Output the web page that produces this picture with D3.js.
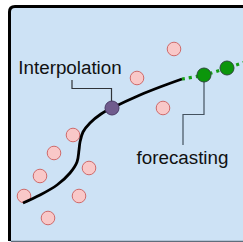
<!DOCTYPE html>
<html><head><meta charset="utf-8">
<script src="https://cdn.jsdelivr.net/npm/d3@7"></script>
<style>html,body{margin:0;padding:0;background:#fff;}svg{display:block;}</style>
</head><body>
<script>
// data units
const samplesX = [8.2, 6.35, 7.65, 3.15, 2.2, 3.95, 1.5, 0.7, 3.45, 1.9];
const samplesY = [9.05, 7.6, 6.1, 4.75, 3.85, 3.1, 2.7, 1.7, 1.7, 0.6];
const curveX = [0.65, 1.5, 2.35, 3.0, 3.35, 3.45, 3.5, 3.65, 4.0, 4.55, 5.1, 6.5, 7.5, 8.6];
const curveY = [1.35, 1.75, 2.25, 2.85, 3.4, 4.0, 4.4, 4.9, 5.35, 5.8, 6.1, 6.75, 7.15, 7.55];
const forecastLineX = [8.6, 9.7, 10.85, 11.75];
const forecastLineY = [7.55, 7.75, 8.1, 8.4];
const interpX = [5.1], interpY = [6.1];
const forecastX = [9.7, 10.85], forecastY = [7.75, 8.1];
const labels = ["Interpolation", "forecasting"];

const W = 243, H = 242;
const x = d3.scaleLinear().domain([0, 11.5]).range([10, 240]);
const y = d3.scaleLinear().domain([0, 11]).range([230, 10]);

const svg = d3.select("body").append("svg").attr("width", W).attr("height", H);

// panel
svg.append("rect").attr("x", 9.5).attr("y", 6.5).attr("width", 260).attr("height", 260)
  .attr("rx", 5).attr("fill", "#cde2f5");
svg.append("path").attr("d", "M9.5,241 L9.5,12 Q9.5,6.5 15,6.5 L245,6.5")
  .attr("fill", "none").attr("stroke", "#000").attr("stroke-width", 3);
svg.append("line").attr("x1", 11).attr("x2", 243).attr("y1", 241.5).attr("y2", 241.5)
  .attr("stroke", "#5f6e7c").attr("stroke-width", 1.5);

// samples
svg.selectAll("circle.s").data(samplesX.map((v, i) => [v, samplesY[i]])).join("circle")
  .attr("cx", d => x(d[0])).attr("cy", d => y(d[1])).attr("r", 6.8)
  .attr("fill", "#f9c8c8").attr("stroke", "#cf6a6a").attr("stroke-width", 1);

const line = d3.line().x(d => x(d[0])).y(d => y(d[1])).curve(d3.curveCatmullRom);
svg.append("path").datum(curveX.map((v, i) => [v, curveY[i]])).attr("d", line)
  .attr("fill", "none").attr("stroke", "#000").attr("stroke-width", 2.8).attr("stroke-linecap", "butt");
svg.append("path").datum(forecastLineX.map((v, i) => [v, forecastLineY[i]])).attr("d", line)
  .attr("fill", "none").attr("stroke", "#16a016").attr("stroke-width", 3.2)
  .attr("stroke-dasharray", "3,4");

// connectors
const ix = x(interpX[0]), iy = y(interpY[0]);
svg.append("path").attr("d", `M72,80 V88.5 H${ix - 0.5} V${iy}`)
  .attr("fill", "none").attr("stroke", "#2f3338").attr("stroke-width", 1.2);
const fx = x(forecastX[0]), fy = y(forecastY[0]);
svg.append("path").attr("d", `M${fx},${fy} V114.5 H183 V145`)
  .attr("fill", "none").attr("stroke", "#44525f").attr("stroke-width", 1.2);

svg.append("circle").attr("cx", ix).attr("cy", iy).attr("r", 7)
  .attr("fill", "#705b8d").attr("stroke", "#4a3a66").attr("stroke-width", 1);
svg.selectAll("circle.f").data(forecastX.map((v, i) => [v, forecastY[i]])).join("circle")
  .attr("cx", d => x(d[0])).attr("cy", d => y(d[1])).attr("r", 7)
  .attr("fill", "#0b960b").attr("stroke", "#2c4a3a").attr("stroke-width", 1);

svg.append("text").attr("x", 70).attr("y", 73.5).attr("text-anchor", "middle")
  .attr("font-family", "Liberation Sans, Arial, sans-serif").attr("font-size", 18.8)
  .attr("fill", "#111").text(labels[0]);
svg.append("text").attr("x", 182.5).attr("y", 163.5).attr("text-anchor", "middle")
  .attr("font-family", "Liberation Sans, Arial, sans-serif").attr("font-size", 18.8)
  .attr("fill", "#111").text(labels[1]);
</script>
</body></html>
